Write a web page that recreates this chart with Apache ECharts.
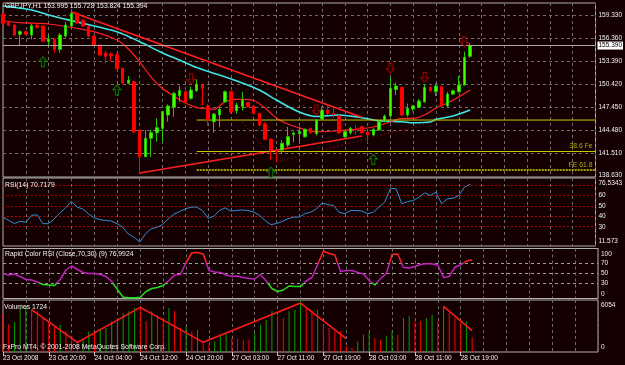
<!DOCTYPE html>
<html><head><meta charset="utf-8">
<script src="https://cdn.jsdelivr.net/npm/echarts@6/dist/echarts.min.js"></script>
<style>html,body{margin:0;padding:0;background:#140000;}#c{width:625px;height:365px;}</style>
</head><body><div id="c"></div>
<script>
// ---------------- data ----------------
const symbol = 'GBPJPY,H1';
const timeLabels = ['23 Oct 2008','23 Oct 20:00','24 Oct 04:00','24 Oct 12:00','24 Oct 20:00','27 Oct 03:00','27 Oct 11:00','27 Oct 19:00','28 Oct 03:00','28 Oct 11:00','28 Oct 19:00'];
const barsPerTimeLabel = 8;
const totalSlots = 105; // bars + empty future space shown by the terminal

const opens = [159.46,158.34,158.04,156.84,157.18,156.75,157.95,157.91,155.89,156.2,
154.9,156.62,157.91,159.55,158.6,157.8,156.62,155.46,154.4,154.3,
154.17,152.45,150.52,150.72,144.49,141.05,143.42,144.14,144.7,146.43,
147.42,148.9,149.43,148.58,149.56,150.3,147.59,145.56,146.43,148.14,
149.43,146.98,147.5,148.01,147.59,146.64,145.26,143.29,141.91,141.91,
142.55,143.9,144.0,143.62,144.71,144.0,145.9,147.07,146.6,146.3,
143.62,144.14,144.6,144.92,144.2,143.85,144.48,145.56,146.3,149.73,
149.99,146.43,147.2,147.42,148.14,149.99,149.43,150.08,147.59,149.13,
149.43,150.3,153.995];
const closes = [158.26,158.0,156.75,157.18,156.84,157.95,157.75,155.97,156.2,154.9,
156.75,158.04,159.55,158.3,157.91,156.6,155.46,154.17,154.0,154.1,
152.45,150.6,150.94,144.27,141.05,143.42,144.14,144.79,146.85,147.59,
149.23,149.6,148.14,149.65,150.42,149.9,145.78,146.55,147.15,149.43,
146.85,147.72,148.36,147.5,146.64,145.13,143.29,141.91,141.7,142.77,
143.62,144.1,144.3,144.58,144.14,145.78,147.07,146.64,146.5,144.14,
144.27,144.71,144.55,144.14,143.85,144.58,145.55,146.3,149.87,150.17,
146.43,147.29,147.59,148.23,149.99,149.56,150.17,147.59,149.13,149.56,
150.3,153.87,155.394];
const lows = [158.1,157.9,156.7,155.33,156.8,156.2,157.6,155.9,155.24,154.47,
154.47,156.4,157.8,158.2,157.8,156.5,155.4,154.1,153.1,153.4,
152.3,150.4,150.4,144.1,138.98,141.0,141.0,142.98,143.0,145.56,
146.2,148.1,148.0,148.4,149.4,147.7,145.0,144.14,144.85,148.0,
146.6,146.6,147.0,147.4,146.5,145.0,143.2,140.62,140.4,141.4,
142.3,142.9,142.9,143.5,144.0,143.8,145.8,146.43,146.1,144.0,
143.5,143.9,143.9,144.0,142.8,143.7,144.4,145.5,146.2,149.0,
146.3,146.2,146.9,147.3,148.0,149.4,148.9,147.4,147.5,149.0,
149.3,150.2,153.824];
const highs = [159.6,158.5,158.1,157.4,157.3,158.17,158.3,158.0,156.75,156.3,
156.97,158.4,159.76,159.7,158.8,158.0,156.7,155.5,154.7,154.5,
154.4,152.5,151.46,150.81,144.6,144.49,144.5,146.0,147.0,147.8,
149.4,150.2,149.6,150.1,151.03,150.4,147.9,146.7,147.4,149.6,
149.6,148.0,149.4,148.1,147.7,146.7,145.5,143.4,142.0,143.2,
144.92,144.3,144.9,144.7,144.8,145.9,147.5,147.59,147.59,146.4,
144.4,144.9,145.1,145.0,144.3,144.7,145.7,146.5,151.29,150.6,
150.1,147.9,147.7,148.5,150.39,150.1,150.5,150.2,149.4,149.7,
151.46,154.6,155.728];

const volumes = [4423,3259,3492,5122,5316,4928,4734,3958,3376,2988,
3182,2406,1824,1242,1630,2406,2212,2600,2794,3570,
3958,4540,4734,5122,5122,3570,4734,4346,3958,5122,
4734,2794,2988,2406,2600,1242,854,1242,1824,2212,
1630,1552,1436,1436,2212,3182,3764,4734,4152,3958,
4734,4928,6054,5122,4734,4928,3182,2794,2406,2406,
660,466,1242,2018,2406,1630,1436,1824,2406,2018,
3958,4152,3570,3570,3958,4346,3570,5316,4540,3958,
3376,3570,1724];

const rsi14 = [39,36,33,35,34.4,40.8,41.4,32.9,32.9,37.5,
43.3,48,54.4,48.7,47,42.4,38.5,36.7,36,35.5,
32.9,29.6,23,20,15.3,23,28,29.5,32,37.5,
42,44.5,47,48.7,48.7,45.5,38,40,45.5,48,
45,45.5,46,45.5,44,41,36,32,33,35,
37.6,39.2,39.2,42.4,43.9,47,52.5,51.2,50.3,43.9,
42.4,45.5,45.5,45,42.4,43.9,48.7,53.5,66.8,66.2,
51.9,54,55,58,62.4,59.8,63,51.9,56.7,57.2,
59.8,67.7,70.7179];
const rsiRange = [11.573, 76.5343];
const rsiLevels = [30,40,50,60,70];

const rapidRsi = [50,47,49,44,38,37,33,28,27,26,
38,57,65,58,52,50,50,48,44,34,
18,2.5,1.7,1.7,2.5,14,20,22,26,36,
47,48,72,91,92,89,56,53,52,47,
44,45,42,40,39,48,35,20,14,17,
25,24,24,35,42,68,95,90,87,54,
56,56,52,49,36,27,40,50,88,89,
62,61,64,68,70,69,67,42,44,63,
67,75,76.9924];
const rapidLevels = [30,50,70];
const rapidTicks = [0,30,50,70,100];

// moving averages [bar index, price]
const maSlow = [[0,160.49],[5,159.98],[8,159.33],[14,158.26],[20,157.17],[24,155.88],[28,154.43],[31,153.52],[34,152.55],[38,151.59],[42,150.56],[45,149.65],[48,148.36],[52,146.81],[55,146.23],[59,146.43],[62,146.2],[66,145.69],[70,145.56],[72,145.43],[75,145.52],[76,145.87],[79,146.3],[82,147.07]];
const maFast = [[0,158.59],[3,158.34],[8,158.17],[14,157.48],[17,156.97],[20,156.1],[22,154.94],[24,153.27],[26,151.33],[28,149.85],[30,148.88],[32,147.97],[34,147.39],[36,147.26],[37,147.16],[39,148.14],[41,148.45],[42,148.45],[44,148.3],[46,147.33],[48,146.04],[50,145.26],[52,144.75],[54,144.36],[56,144.27],[59,144.4],[62,144.58],[65,144.88],[68,145.52],[70,146.0],[72,146.0],[74,146.43],[76,147.33],[78,147.97],[80,148.75],[82,149.65]];
const trendDown = [[12,159.72],[63,146.15]];
const trendUp = [[24,138.94],[63,143.72]];
const fractalPath = [[42,145.52],[48,140.36],[65,143.59],[77,145.78]];
const fibLevels = [
  {name:'', price:145.78, from:34},
  {name:'38.6 Fe', price:141.72, from:34},
  {name:'FE 61.8', price:139.33, from:34}
];
const upArrows = [[7,153.3],[20,149.65],[47,139.05],[65,140.71]];
const downArrows = [[33,151.07],[55,147.07],[68,152.45],[74,151.29],[81,155.88]];
const volZigzag1 = [[5,4928],[13,1125],[24,5199],[35,1125],[52,5704],[60,1552]];
const volZigzag2 = [[77,5316],[82,2483]];

const priceTicks = [141.51,144.48,147.45,150.42,153.39,156.36,159.33];
const priceBottomLabel = 138.63;
const priceRange = [138.43, 160.88];

// ---------------- chart ----------------
const ff = '"Liberation Sans", Arial, sans-serif';
const txt = '#f2f2f2';
const fs = 6.5;
const fsTitle = 6.8;
const last = closes.length - 1;
const lastSlot = totalSlots - 1;
const cats = Array.from({length: totalSlots}, (_, i) => String(i));
const volMax = Math.max(...volumes);

const gridDefs = [
  {top: 3, height: 174},
  {top: 178, height: 68},
  {top: 248.5, height: 50},
  {top: 300, height: 52}
];
const grids = gridDefs.map(g => ({left: 3, right: 27, top: g.top, height: g.height, show: true, borderColor: '#b0b0b0', borderWidth: 1, backgroundColor: 'transparent'}));

const isTimeLabel = i => i % barsPerTimeLabel === 0 && i / barsPerTimeLabel < timeLabels.length;
const xAxes = gridDefs.map((g, k) => ({
  type: 'category', gridIndex: k, data: cats, boundaryGap: false,
  axisLine: {show: false},
  axisTick: {show: k === 3, interval: (i) => isTimeLabel(i), length: 4, lineStyle: {color: '#c8c8c8'}},
  axisLabel: {show: k === 3, interval: (i) => isTimeLabel(i), formatter: (v, i) => timeLabels[i / barsPerTimeLabel] || '',
    align: 'left', margin: 3, color: txt, fontSize: fs, fontFamily: ff},
  splitLine: {show: true, interval: (i) => i > 0 && i % 4 === 0, lineStyle: {color: '#6c6c6c', type: [3, 3], width: 1}}
}));

const richShift = {
  top: {padding: [11, 0, 0, 0], color: txt, fontSize: fs, fontFamily: ff},
  bot: {padding: [0, 0, 9, 0], color: txt, fontSize: fs, fontFamily: ff}
};
const baseLabel = {color: txt, fontSize: fs, fontFamily: ff, margin: 3, rich: richShift};

const yAxes = [
  {type: 'value', gridIndex: 0, position: 'right', min: priceRange[0], max: priceRange[1],
    axisLine: {show: false}, axisTick: {show: false, customValues: priceTicks},
    axisLabel: Object.assign({}, baseLabel, {customValues: [priceBottomLabel].concat(priceTicks), formatter: v => v.toFixed(3)}),
    splitLine: {show: true, lineStyle: {color: '#6c6c6c', type: [3, 3], width: 1}}},
  {type: 'value', gridIndex: 1, position: 'right', min: rsiRange[0], max: rsiRange[1],
    axisLine: {show: false}, axisTick: {show: false, customValues: rsiLevels},
    axisLabel: Object.assign({}, baseLabel, {customValues: [rsiRange[0], 30, 40, 50, 60, rsiRange[1]],
      formatter: v => v === rsiRange[1] ? '{top|' + v.toFixed(4) + '}' : (v === rsiRange[0] ? '{bot|' + v.toFixed(3) + '}' : String(v))}),
    splitLine: {show: true, lineStyle: {color: '#b00000', type: [2, 2], width: 1}}},
  {type: 'value', gridIndex: 2, position: 'right', min: 0, max: 100,
    axisLine: {show: false}, axisTick: {show: false, customValues: rapidLevels},
    axisLabel: Object.assign({}, baseLabel, {customValues: rapidTicks,
      formatter: v => v === 100 ? '{top|100}' : (v === 0 ? '{bot|0}' : String(v))}),
    splitLine: {show: true, lineStyle: {color: '#a0a0a0', type: [3, 3], width: 1}}},
  {type: 'value', gridIndex: 3, position: 'right', min: 0, max: volMax,
    axisLine: {show: false}, axisTick: {show: false, customValues: []},
    axisLabel: Object.assign({}, baseLabel, {customValues: [0, volMax],
      formatter: v => v === volMax ? '{top|' + v + '}' : '{bot|0}'}),
    splitLine: {show: false}}
];

const candleData = opens.map((o, i) => [o, closes[i], lows[i], highs[i]]);
const volData = volumes.map((v, i) => ({value: v, itemStyle: {color: (i > 0 && v > volumes[i - 1]) ? '#00a000' : '#ff0000'}}));

const arrowPath = 'path://M5,0 L10,5 L7,5 L7,11 L3,11 L3,5 L0,5 Z';
const line = (data, color, width, extra) => Object.assign({type: 'line', xAxisIndex: 0, yAxisIndex: 0, data, showSymbol: false, symbol: 'none',
  lineStyle: {color, width}, silent: true, z: 3}, extra || {});

const series = [
  {type: 'candlestick', xAxisIndex: 0, yAxisIndex: 0, data: candleData, barWidth: 3, z: 4,
    itemStyle: {color: '#44ff00', color0: '#ff0000', borderColor: '#22c800', borderColor0: '#ff0000', borderWidth: 1},
    markLine: {silent: true, symbol: 'none', animation: false, data: [{yAxis: closes[last]}],
      lineStyle: {color: '#a8a8a8', type: 'solid', width: 1},
      label: {position: 'end', distance: 2, formatter: p => Number(p.value).toFixed(3), backgroundColor: '#ffffff', color: '#000000',
        fontSize: fs, fontFamily: ff, padding: [1, 1, 0, 1]}}},
  line(maSlow, '#3fe6e6', 1.6, {smooth: 0.3}),
  line(maFast, '#ff2020', 1.2, {smooth: 0.3}),
  line(trendDown, '#ff2020', 1.6),
  line(trendUp, '#ff2020', 1.6),
  line(fractalPath, '#c01010', 1, {lineStyle: {color: '#c01010', width: 1, type: [1, 3]}}),
];
fibLevels.forEach((f, k) => {
  const dotted = k === 2;
  series.push(line([[f.from, f.price], [lastSlot, f.price]], dotted ? '#a4a400' : '#c8c800', dotted ? 2 : 1,
    dotted ? {lineStyle: {color: '#a4a400', width: 2, type: [2, 1]}} : {}));
});
series.push({type: 'scatter', xAxisIndex: 0, yAxisIndex: 0, silent: true, symbolSize: 1, z: 6,
  itemStyle: {color: 'rgba(0,0,0,0)'},
  data: fibLevels.filter(f => f.name).map(f => ({value: [lastSlot, f.price], name: f.name})),
  label: {show: true, position: 'top', align: 'right', distance: 1, offset: [-3, 0], formatter: p => p.name,
    color: '#d8d800', fontSize: fsTitle, fontFamily: ff}});
series.push({type: 'scatter', xAxisIndex: 0, yAxisIndex: 0, silent: true, data: upArrows, symbol: arrowPath, symbolSize: [8, 10], z: 5,
  itemStyle: {color: '#140000', borderColor: '#00a000', borderWidth: 1}});
series.push({type: 'scatter', xAxisIndex: 0, yAxisIndex: 0, silent: true, data: downArrows, symbol: arrowPath, symbolSize: [8, 10], symbolRotate: 180, z: 5,
  itemStyle: {color: '#140000', borderColor: '#c80000', borderWidth: 1}});
series.push({type: 'line', xAxisIndex: 1, yAxisIndex: 1, data: rsi14, showSymbol: false, symbol: 'none', silent: true,
  lineStyle: {color: '#2f8fd8', width: 1}});
const rapidIndex = series.length;
series.push({type: 'line', xAxisIndex: 2, yAxisIndex: 2, data: rapidRsi.map((v, i) => [i, v]), showSymbol: false, symbol: 'none', silent: true,
  lineStyle: {width: 1.5}});
series.push({type: 'bar', xAxisIndex: 3, yAxisIndex: 3, data: volData, barWidth: 1, silent: true});
series.push({type: 'line', xAxisIndex: 3, yAxisIndex: 3, data: volZigzag1, showSymbol: false, symbol: 'none', silent: true, lineStyle: {color: '#ff1a1a', width: 1.6}});
series.push({type: 'line', xAxisIndex: 3, yAxisIndex: 3, data: volZigzag2, showSymbol: false, symbol: 'none', silent: true, lineStyle: {color: '#ff1a1a', width: 1.6}});

const titleStyle = {color: txt, fontSize: fsTitle, fontWeight: 'normal', fontFamily: ff};
const titles = [
  {text: symbol + ' ' + [opens[last], highs[last], lows[last], closes[last]].map(v => v.toFixed(3)).join(' '), left: 5, top: 3},
  {text: 'RSI(14) ' + rsi14[last].toFixed(4), left: 5, top: 182},
  {text: 'Rapid Color RSI (Close,' + rapidLevels[2] + ',' + rapidLevels[0] + ') (9) ' + rapidRsi[last].toFixed(4), left: 5, top: 251},
  {text: 'Volumes ' + volumes[last], left: 4, top: 304},
  {text: 'FxPro MT4, \u00a9 2001-2008 MetaQuotes Software Corp.', left: 3, top: 343.5}
].map(t => Object.assign({padding: 0, textStyle: titleStyle}, t));

const chart = echarts.init(document.getElementById('c'), null, {renderer: 'canvas'});
chart.setOption({
  backgroundColor: '#140000',
  animation: false,
  title: titles,
  grid: grids,
  xAxis: xAxes,
  yAxis: yAxes,
  visualMap: [{type: 'piecewise', show: false, seriesIndex: rapidIndex, dimension: 1,
    pieces: [{gt: 70, color: '#ff2020'}, {lt: 30, color: '#22dd22'}, {gte: 30, lte: 70, color: '#c020c0'}]}],
  series
});
</script></body></html>
